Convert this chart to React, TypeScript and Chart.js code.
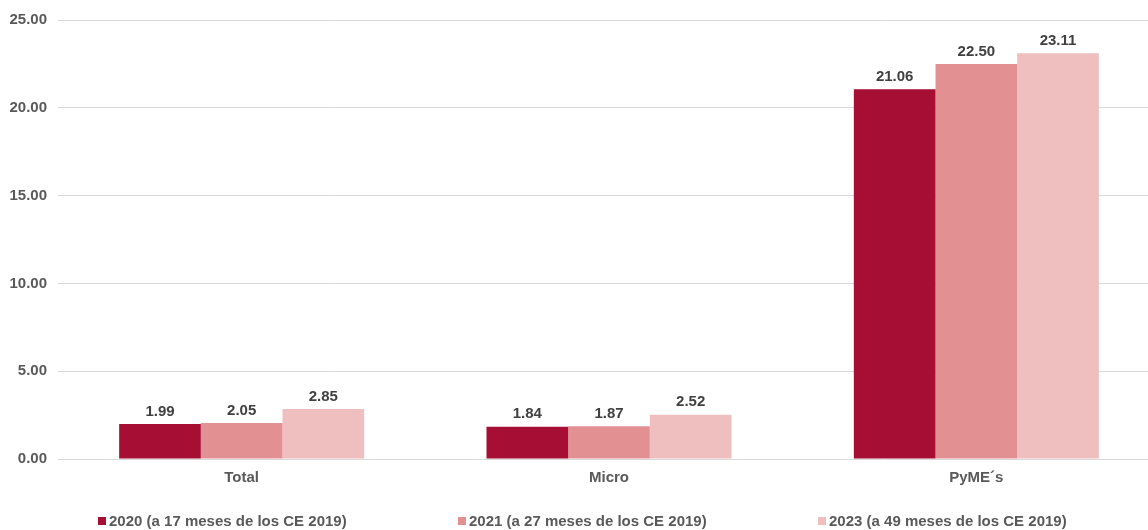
import React, { useEffect, useRef } from "react";
import { Chart, registerables } from "chart.js";

Chart.register(...registerables);

const categories = ["Total", "Micro", "PyME´s"];
const seriesLabels = [
  "2020 (a 17 meses de los CE 2019)",
  "2021 (a 27 meses de los CE 2019)",
  "2023 (a 49 meses de los CE 2019)",
];
const values2020 = [1.99, 1.84, 21.06];
const values2021 = [2.05, 1.87, 22.5];
const values2023 = [2.85, 2.52, 23.11];
const colors = ["#A60E34", "#E39093", "#EFBEBE"];

const FONT = "'Liberation Sans', Arial, sans-serif";

const labelPlugin = {
  id: "barLabels",
  afterDatasetsDraw(chart: any) {
    const ctx = chart.ctx;
    ctx.save();
    ctx.font = `bold 15px ${FONT}`;
    ctx.fillStyle = "#404040";
    ctx.textAlign = "center";
    ctx.textBaseline = "bottom";
    chart.data.datasets.forEach((ds: any, i: number) => {
      const meta = chart.getDatasetMeta(i);
      meta.data.forEach((bar: any, j: number) => {
        ctx.fillText(Number(ds.data[j]).toFixed(2), bar.x, bar.y - 5);
      });
    });
    ctx.restore();
  },
};

export default function App() {
  const ref = useRef<HTMLCanvasElement>(null);
  useEffect(() => {
    const chart = new Chart(ref.current!, {
      type: "bar",
      data: {
        labels: categories,
        datasets: [values2020, values2021, values2023].map((d, i) => ({
          label: seriesLabels[i],
          data: d,
          backgroundColor: colors[i],
          borderWidth: 0,
          barPercentage: 1,
          categoryPercentage: 0.667,
        })),
      },
      options: {
        animation: false,
        responsive: false,
        maintainAspectRatio: false,
        layout: { padding: { top: 11, bottom: 33, left: 0, right: 0 } },
        plugins: { legend: { display: false }, tooltip: { enabled: false } },
        scales: {
          x: {
            grid: { display: false, drawTicks: false },
            border: { display: false },
            ticks: { font: { family: FONT, size: 15, weight: "bold" }, color: "#595959", padding: 10 },
          },
          y: {
            min: 0,
            max: 25,
            ticks: {
              stepSize: 5,
              padding: 11,
              font: { family: FONT, size: 15, weight: "bold" },
              color: "#595959",
              callback: (v: any) => Number(v).toFixed(2),
            },
            grid: { color: "#D9D9D9", drawTicks: false },
            border: { display: false },
            afterFit: (s: any) => {
              s.width = 58;
            },
          },
        },
      },
      plugins: [labelPlugin],
    });
    return () => chart.destroy();
  }, []);

  return (
    <div style={{ position: "fixed", left: 0, top: 0, width: 1160, height: 530 }}>
      <canvas ref={ref} width={1160} height={530} style={{ display: "block" }} />
      <div
        style={{
          position: "absolute",
          left: 98,
          top: 512,
          display: "flex",
          fontFamily: FONT,
          fontWeight: "bold",
          fontSize: 15,
          color: "#595959",
          whiteSpace: "nowrap",
          lineHeight: "18px",
        }}
      >
        {seriesLabels.map((l, i) => (
          <div key={l} style={{ width: 360, display: "flex", alignItems: "center" }}>
            <span style={{ width: 8, height: 8, background: colors[i], display: "inline-block", marginRight: 3 }} />
            <span>{l}</span>
          </div>
        ))}
      </div>
    </div>
  );
}
